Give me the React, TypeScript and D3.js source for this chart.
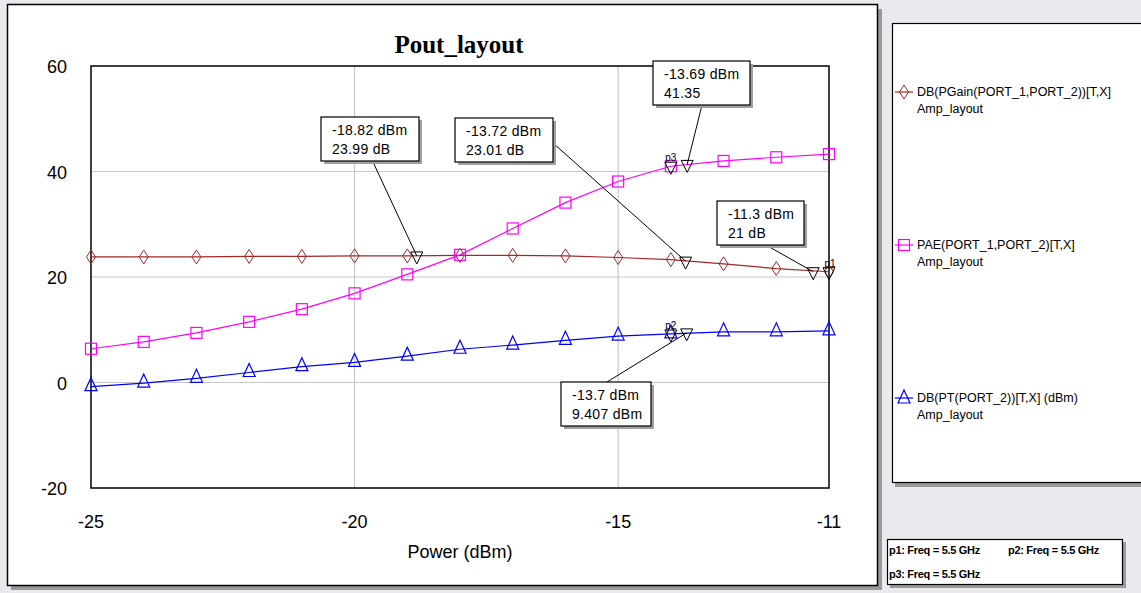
import React from "react";
import * as d3 from "d3";

const powerIn = [-25, -24, -23, -22, -21, -20, -19, -18, -17, -16, -15, -14, -13, -12, -11];
const gainDb = [23.8, 23.8, 23.8, 23.9, 23.9, 24.0, 24.0, 24.1, 24.1, 24.0, 23.7, 23.3, 22.5, 21.6, 21.0];
const pae = [6.4, 7.7, 9.4, 11.5, 13.9, 16.9, 20.5, 24.2, 29.2, 34.1, 38.1, 41.0, 42.0, 42.7, 43.3];
const poutDbm = [-0.8, -0.1, 0.8, 1.9, 3.0, 3.8, 5.0, 6.3, 7.1, 8.0, 8.8, 9.2, 9.6, 9.6, 9.8];

const xTicks = [-25, -20, -15, -11];
const yTicks = [-20, 0, 20, 40, 60];
const xGrid = [-20, -15];
const yGrid = [0, 20, 40];

const seriesNames = ["DB(PGain(PORT_1,PORT_2))[T,X]", "PAE(PORT_1,PORT_2)[T,X]", "DB(PT(PORT_2))[T,X] (dBm)"];
const seriesSub = "Amp_layout";

const markerX = [-18.82, -13.72, -13.69, -11.3, -13.7];
const markerY = [23.99, 23.01, 41.35, 21, 9.407];
const markerLine1 = ["-18.82 dBm", "-13.72 dBm", "-13.69 dBm", "-11.3 dBm", "-13.7 dBm"];
const markerLine2 = ["23.99 dB", "23.01 dB", "41.35", "21 dB", "9.407 dBm"];
const boxPos: [number, number][] = [[321, 117], [455, 118], [653, 61], [717, 201], [561, 382]];
const boxW = [98, 98, 97, 87, 90];
const boxAnchor: [number, number][] = [[373, 162], [553, 143], [702, 105], [766, 245], [607, 382]];

const pMarkX = [-11, -14, -14];
const pMarkY = [21.0, 9.2, 41.0];
const pMarkLabel = ["p1", "p2", "p3"];
const freqNotes = ["p1: Freq = 5.5 GHz", "p2: Freq = 5.5 GHz", "p3: Freq = 5.5 GHz"];

const colors = ["#a32828", "#ff00ff", "#0000ff"];

function Diamond({ x, y, c }: { x: number; y: number; c: string }) {
  return <path d={`M${x},${y - 7}L${x + 4.5},${y}L${x},${y + 7}L${x - 4.5},${y}Z`} fill="none" stroke={c} strokeWidth={1} />;
}
function Square({ x, y, c }: { x: number; y: number; c: string }) {
  return <rect x={x - 5.5} y={y - 5.5} width={11} height={11} fill="none" stroke={c} strokeWidth={1.2} />;
}
function TriUp({ x, y, c }: { x: number; y: number; c: string }) {
  return <path d={`M${x},${y - 9}L${x + 6},${y + 4}L${x - 6},${y + 4}Z`} fill="none" stroke={c} strokeWidth={1.2} />;
}
function TriDown({ x, y }: { x: number; y: number }) {
  return <path d={`M${x - 6},${y - 4}L${x + 6},${y - 4}L${x},${y + 8}Z`} fill="none" stroke="#000" strokeWidth={1} />;
}

export default function App() {
  const x = d3.scaleLinear().domain([-25, -11]).range([91, 829]);
  const y = d3.scaleLinear().domain([-20, 60]).range([488, 66]);
  const seriesVals = [gainDb, pae, poutDbm];
  const line = d3
    .line<[number, number]>()
    .x((d) => x(d[0]))
    .y((d) => y(d[1]));
  const markerShapes = [Diamond, Square, TriUp];
  const font = "Arial, 'Liberation Sans', sans-serif";

  return (
    <svg width={1141} height={593} style={{ position: "absolute", left: 0, top: 0, background: "#ebe9ed" }}>
      <rect x={0} y={0} width={1141} height={593} fill="#ebe9ed" />
      <rect x={11} y={9} width={871} height={581} fill="#9a9a9a" />
      <rect x={7.5} y={4.5} width={870} height={581} fill="#fff" stroke="#000" strokeWidth={1.5} />
      <text x={459} y={53} textAnchor="middle" fontFamily="'Times New Roman', 'Liberation Serif', serif" fontWeight="bold" fontSize={25}>
        Pout_layout
      </text>
      {xGrid.map((g) => (
        <line key={"xg" + g} x1={x(g)} x2={x(g)} y1={y(60)} y2={y(-20)} stroke="#c8c8c8" strokeWidth={1.2} />
      ))}
      {yGrid.map((g) => (
        <line key={"yg" + g} x1={x(-25)} x2={x(-11)} y1={y(g)} y2={y(g)} stroke="#c8c8c8" strokeWidth={1.2} />
      ))}
      <rect x={x(-25)} y={y(60)} width={x(-11) - x(-25)} height={y(-20) - y(60)} fill="none" stroke="#000" strokeWidth={1.5} />
      {xTicks.map((t) => (
        <text key={"xt" + t} x={x(t)} y={528} textAnchor="middle" fontFamily={font} fontSize={18}>
          {t}
        </text>
      ))}
      {yTicks.map((t) => (
        <text key={"yt" + t} x={67} y={y(t) + 7} textAnchor="end" fontFamily={font} fontSize={18}>
          {t}
        </text>
      ))}
      <text x={460} y={558} textAnchor="middle" fontFamily={font} fontSize={18}>
        Power (dBm)
      </text>
      {seriesVals.map((vals, si) => {
        const pts = powerIn.map((p, i) => [p, vals[i]] as [number, number]);
        const Shape = markerShapes[si];
        return (
          <g key={"s" + si}>
            <path d={line(pts) || ""} fill="none" stroke={colors[si]} strokeWidth={1.2} />
            {pts.map((d, i) => (
              <Shape key={i} x={x(d[0])} y={y(d[1])} c={colors[si]} />
            ))}
          </g>
        );
      })}
      {pMarkX.map((px, i) => (
        <g key={"pm" + i}>
          <TriDown x={x(px)} y={y(pMarkY[i])} />
          <text x={x(px) + (i === 0 ? 1 : 0)} y={y(pMarkY[i]) - 5} fontFamily={font} fontSize={10} textAnchor="middle">
            {pMarkLabel[i]}
          </text>
        </g>
      ))}
      {markerX.map((mx, i) => {
        const [bx, by] = boxPos[i];
        const [ax, ay] = boxAnchor[i];
        return (
          <g key={"m" + i}>
            <line x1={ax} y1={ay} x2={x(mx)} y2={y(markerY[i])} stroke="#000" strokeWidth={1} />
            <TriDown x={x(mx)} y={y(markerY[i])} />
            <rect x={bx + 3} y={by + 3} width={boxW[i]} height={44} fill="#a0a0a0" />
            <rect x={bx} y={by} width={boxW[i]} height={44} fill="#fff" stroke="#000" strokeWidth={1.2} />
            <text x={bx + 11} y={by + 18} fontFamily={font} fontSize={14} letterSpacing={0.3}>
              {markerLine1[i]}
            </text>
            <text x={bx + 11} y={by + 37} fontFamily={font} fontSize={14} letterSpacing={0.3}>
              {markerLine2[i]}
            </text>
          </g>
        );
      })}
      <rect x={895} y={27} width={250} height={460} fill="#9a9a9a" />
      <rect x={892.5} y={23.5} width={252} height={459} fill="#fff" stroke="#000" strokeWidth={1.2} />
      {seriesNames.map((n, i) => {
        const ly = [92, 245, 398][i];
        const Shape = markerShapes[i];
        return (
          <g key={"lg" + i}>
            <line x1={895} x2={913} y1={ly} y2={ly} stroke={colors[i]} strokeWidth={1.2} />
            <Shape x={904} y={ly + (i === 2 ? 1 : 0)} c={colors[i]} />
            <text x={917} y={ly + 4} fontFamily={font} fontSize={12.5}>
              {n}
            </text>
            <text x={917} y={ly + 21} fontFamily={font} fontSize={12.5}>
              {seriesSub}
            </text>
          </g>
        );
      })}
      <rect x={890} y={542} width={236} height={46} fill="#9a9a9a" />
      <rect x={887.5} y={539.5} width={235} height={45} fill="#fff" stroke="#000" strokeWidth={1.2} />
      {freqNotes.map((f, i) => (
        <text
          key={"fn" + i}
          x={[889, 1008, 889][i]}
          y={[554, 554, 578][i]}
          fontFamily={font}
          fontSize={11}
          fontWeight="bold"
          letterSpacing={-0.3}
        >
          {f}
        </text>
      ))}
    </svg>
  );
}
